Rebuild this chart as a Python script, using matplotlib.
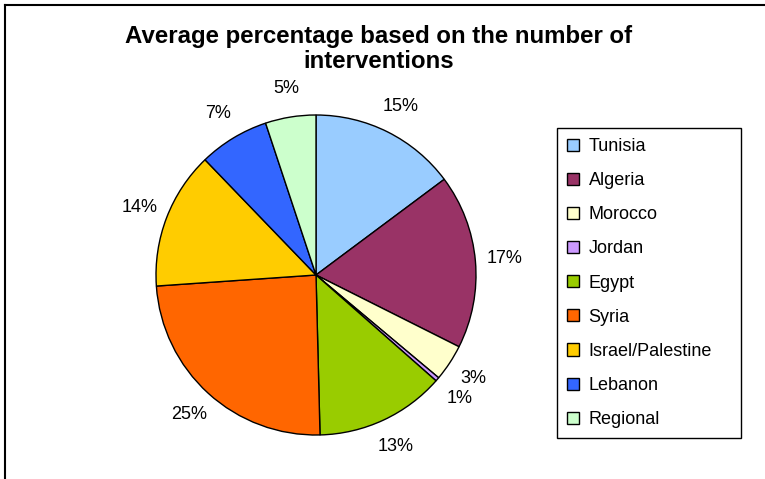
import numpy as np
import matplotlib.pyplot as plt
from matplotlib.lines import Line2D

plt.rcParams['font.family'] = ['Liberation Sans', 'DejaVu Sans']

# data
countries = ["Tunisia", "Algeria", "Morocco", "Jordan", "Egypt", "Syria",
             "Israel/Palestine", "Lebanon", "Regional"]
shares = [14.8, 17.6, 3.7, 0.4, 13.1, 24.3, 13.9, 7.1, 5.1]
pct_labels = ["15%", "17%", "3%", "1%", "13%", "25%", "14%", "7%", "5%"]
colors = ["#99CCFF", "#993366", "#FFFFCC", "#CC99FF", "#99CC00", "#FF6600",
          "#FFCC00", "#3366FF", "#CCFFCC"]

W, H = 765, 479
fig = plt.figure(figsize=(W / 100, H / 100), dpi=100)

# pie centre ~ (316, 275) px, radius ~160 px
cx, cy, r = 316, 275, 160
ax = fig.add_axes([(cx - r) / W, 1 - (cy + r) / H, 2 * r / W, 2 * r / H])
wedges, texts = ax.pie(shares, labels=pct_labels, colors=colors,
                       startangle=90, counterclock=False, labeldistance=1.18,
                       wedgeprops=dict(edgecolor="black", linewidth=1.0),
                       textprops=dict(fontsize=13))
for t in texts:
    t.set_ha("center")
    t.set_va("center")
ax.set_xlim(-1, 1)
ax.set_ylim(-1, 1)

fig.text(379 / W, 1 - 49 / H,
         "Average percentage based on the number of\ninterventions",
         ha="center", va="center", fontsize=17.3, fontweight="bold",
         linespacing=1.15)

# legend box fixed to the reference size
leg = fig.legend(wedges, countries, loc="upper left", mode="expand",
                 bbox_to_anchor=(557 / W, 1 - 437 / H, 184 / W, 309 / H),
                 fontsize=13, frameon=True, fancybox=False,
                 edgecolor="black", framealpha=1, borderpad=0.55,
                 handlelength=0.65, handleheight=0.65, handletextpad=0.55,
                 labelspacing=0.95, borderaxespad=0)
leg.get_frame().set_linewidth(1.0)

# outer chart frame (left and top edges visible)
fig.add_artist(Line2D([5 / W, 5 / W], [0, 1 - 5 / H], transform=fig.transFigure,
                      color="black", linewidth=1.5))
fig.add_artist(Line2D([5 / W, 1], [1 - 5 / H, 1 - 5 / H], transform=fig.transFigure,
                      color="black", linewidth=1.5))

fig.savefig("out.png", dpi=100)
